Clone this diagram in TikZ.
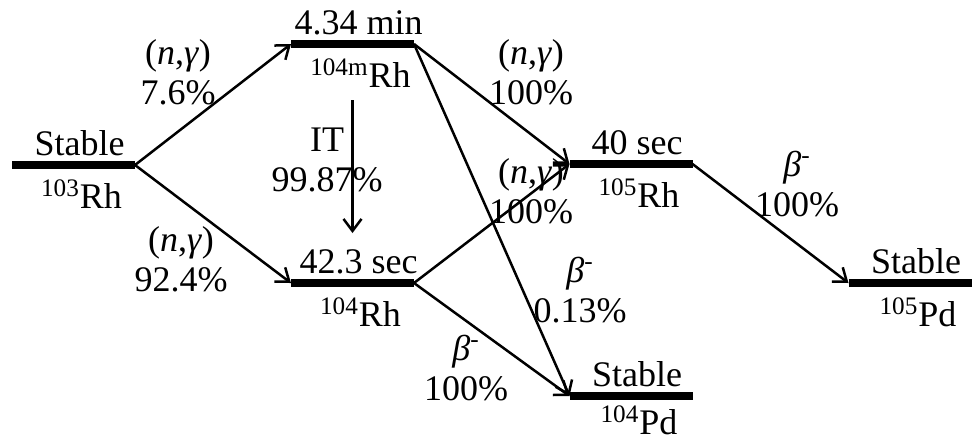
\documentclass[tikz,border=0pt]{standalone}
\usepackage{fontspec}
\setmainfont{Liberation Serif}
\usetikzlibrary{arrows.meta,positioning}
\tikzset{
  level/.style={rectangle, fill=black, inner sep=0pt, outer sep=0pt, minimum width=61.5pt, minimum height=4pt},
  halflife/.style={inner sep=2pt, xshift=3pt},
  nuclide/.style={inner sep=2pt, xshift=4pt},
  branch/.style={align=center, inner sep=0pt},
  arrow/.style={-{Straight Barb[length=6pt,width=9pt]}, line width=1.25pt}
}
\newcommand{\ngamma}{(\textit{n},\textit{γ})}
\newcommand{\betaminus}{\textit{β}\textsuperscript{-}}

\begin{document}
\begin{tikzpicture}[x=0.5pt,y=-0.5pt,font=\fontsize{18}{20}\selectfont]
\useasboundingbox (0,0) rectangle (975,440);

% levels
\node[level] (rh103) at (73.5,165) {};
\node[level] (rh104m) at (352.5,44) {};
\node[level] (rh104) at (352.5,283) {};
\node[level] (rh105) at (631,164) {};
\node[level] (pd104) at (631,396) {};
\node[level] (pd105) at (910,283) {};

% half-lives and nuclides
\node[halflife, above=0.5pt of rh103] (rh103hl) {Stable};
\node[nuclide, below=3pt of rh103] (rh103nm) {\textsuperscript{103}Rh};
\node[halflife, above=0.5pt of rh104m] (rh104mhl) {4.34 min};
\node[nuclide, below=3pt of rh104m] (rh104mnm) {\textsuperscript{104m}Rh};
\node[halflife, above=0.5pt of rh104] (rh104hl) {42.3 sec};
\node[nuclide, below=3pt of rh104] (rh104nm) {\textsuperscript{104}Rh};
\node[halflife, above=0.5pt of rh105] (rh105hl) {40 sec};
\node[nuclide, below=3pt of rh105] (rh105nm) {\textsuperscript{105}Rh};
\node[halflife, above=0.5pt of pd104] (pd104hl) {Stable};
\node[nuclide, below=0.5pt of pd104] (pd104nm) {\textsuperscript{104}Pd};
\node[halflife, above=0.5pt of pd105] (pd105hl) {Stable};
\node[nuclide, below=3pt of pd105] (pd105nm) {\textsuperscript{105}Pd};

% branches
\draw[arrow] (rh103.east) -- (rh104m.west);
\draw[arrow] (rh103.east) -- (rh104.west);
\draw[arrow] ([yshift=-26pt]rh104m.south) -- ([yshift=23pt]rh104.north);
\draw[arrow] (rh104m.east) -- (rh105.west);
\draw[arrow] (rh104m.east) -- (pd104.west);
\draw[arrow] (rh104.east) -- (rh105.west);
\draw[arrow] (rh104.east) -- (pd104.west);
\draw[arrow] (rh105.east) -- (pd105.west);

% branch labels
\node[branch] (ng1) at (178,72) {\ngamma\\7.6\%};
\node[branch] (ng2) at (181,259) {\ngamma\\92.4\%};
\node[branch] (it) at (327,160) {IT\\99.87\%};
\node[branch] (ng3) at (531,72) {\ngamma\\100\%};
\node[branch] (ng4) at (531,191) {\ngamma\\100\%};
\node[branch] (b1) at (580,290) {\betaminus\\0.13\%};
\node[branch] (b2) at (466,368) {\betaminus\\100\%};
\node[branch] (b3) at (797,184) {\betaminus\\100\%};

\end{tikzpicture}
\end{document}
